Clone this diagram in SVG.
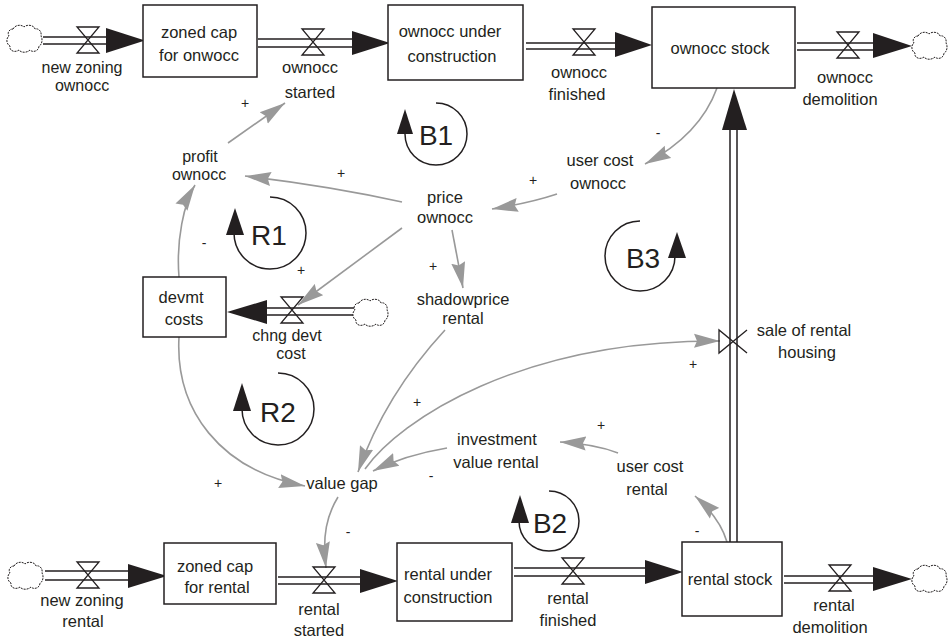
<svg xmlns="http://www.w3.org/2000/svg" xmlns:xlink="http://www.w3.org/1999/xlink" width="948" height="638" viewBox="0 0 948 638">
<style>
.lbl{font-family:"Liberation Sans",Arial,Helvetica,sans-serif;font-size:16.5px;fill:#231f20;text-anchor:middle}
.tight{font-size:16px}
.loop{font-size:28px}
.sgn{font-size:14px}
.box{fill:#fff;stroke:#231f20;stroke-width:1.5}
.pipe{stroke:#231f20;stroke-width:1.5;fill:none}
.valve{fill:none;stroke:#231f20;stroke-width:1.3}
.head{fill:#231f20}
.cloud{fill:#fff;stroke:#231f20;stroke-width:1;stroke-dasharray:2 1}
.link{fill:none;stroke:#999;stroke-width:1.6;marker-end:url(#ah)}
.loopa{fill:none;stroke:#231f20;stroke-width:1.5}
</style>
<defs>
<marker id="ah" markerUnits="userSpaceOnUse" markerWidth="26" markerHeight="16" viewBox="0 0 26 16" refX="26" refY="8" orient="auto">
<path d="M0,1 L26,8 L0,15 L3,8 Z" fill="#999"/>
</marker>
<path id="cloudp" class="cloud" d="M7,5 C9,1 15,0 18,3 C21,0 28,1 29,5 C33,4 36,8 35,12 C37,15 36,21 33,22 C33,27 27,29 24,26 C21,29 15,29 13,26 C9,29 3,27 4,22 C0,20 0,14 3,12 C1,9 3,5 7,5 Z"/>
<path id="valvep" class="valve" d="M-11,-13 H11 L-11,13 H11 Z"/>
</defs>

<g id="connectors">
<path class="link" d="M228,143 L285,103"/>
<path class="link" d="M402,202 Q330,186 245,176"/>
<path class="link" d="M717,88 Q700,135 645,164"/>
<path class="link" d="M557,194 Q530,203 492,209"/>
<path class="link" d="M402,228 L298,305"/>
<path class="link" d="M452,230 L463,288"/>
<path class="link" d="M179,277 C176,240 184,203 195,185"/>
<path class="link" d="M179,337 C175,410 220,470 305,486"/>
<path class="link" d="M445,330 Q385,395 358,472"/>
<path class="link" d="M365,469 C400,420 520,340 720,341"/>
<path class="link" d="M447,448 Q405,455 373,471"/>
<path class="link" d="M618,453 Q595,444 560,442"/>
<path class="link" d="M727,542 Q720,518 695,496"/>
<path class="link" d="M338,497 C327,515 322,535 326,568"/>
<g class="lbl sgn" fill="#231f20">
<text x="245" y="108">+</text>
<text x="341" y="178">+</text>
<text x="658" y="138">-</text>
<text x="533" y="185">+</text>
<text x="301" y="275">+</text>
<text x="433" y="271">+</text>
<text x="204" y="248">-</text>
<text x="218" y="488">+</text>
<text x="417" y="407">+</text>
<text x="693" y="369">+</text>
<text x="431" y="481">-</text>
<text x="601" y="430">+</text>
<text x="697" y="536">-</text>
<text x="348" y="537">-</text>
</g>
</g>

<g id="flows">
<use xlink:href="#cloudp" x="6" y="24"/>
<path class="pipe" d="M43,37 H107 M43,44 H107"/>
<use xlink:href="#valvep" x="88" y="40"/>
<polygon class="head" points="106,28 145,40.5 106,53"/>
<path class="pipe" d="M258,39 H353 M258,47 H353"/>
<use xlink:href="#valvep" x="313" y="42"/>
<polygon class="head" points="352,31 390,43 352,55"/>
<path class="pipe" d="M526,43 H617 M526,49 H617"/>
<use xlink:href="#valvep" x="584" y="42"/>
<polygon class="head" points="615,32 652,45 615,57"/>
<path class="pipe" d="M797,43 H875 M797,50 H875"/>
<use xlink:href="#valvep" x="848" y="45"/>
<polygon class="head" points="873,33 912,46 873,58"/>
<use xlink:href="#cloudp" x="911" y="31"/>
<use xlink:href="#cloudp" x="7" y="561"/>
<path class="pipe" d="M45,571 H129 M45,580 H129"/>
<use xlink:href="#valvep" x="88" y="575"/>
<polygon class="head" points="128,564 167,576 128,588"/>
<path class="pipe" d="M278,577 H361 M278,584 H361"/>
<use xlink:href="#valvep" x="324" y="580"/>
<polygon class="head" points="360,569 398,581 360,593"/>
<path class="pipe" d="M514,568 H646 M514,576 H646"/>
<use xlink:href="#valvep" x="573" y="571"/>
<polygon class="head" points="645,560 683,572 645,584"/>
<path class="pipe" d="M784,576 H874 M784,583 H874"/>
<use xlink:href="#valvep" x="840" y="578"/>
<polygon class="head" points="873,567 912,579 873,591"/>
<use xlink:href="#cloudp" x="911" y="564"/>
<path class="pipe" d="M730,128 V542 M737,128 V542"/>
<polygon class="head" points="722,130 734,89 747,130"/>
<path class="valve" d="M747,330 L719,353 V330 L747,353"/>
<path class="pipe" d="M266,308 H354 M266,315 H354"/>
<use xlink:href="#valvep" x="292" y="310"/>
<polygon class="head" points="267,300 227,312 267,324"/>
<use xlink:href="#cloudp" x="352" y="298"/>
</g>

<g id="loops">
<g id="loop-B1"><path class="loopa" d="M436,103 A31,31 0 1 1 405,134"/><polygon class="head" points="397,134 405,109 413,134"/><text class="lbl loop" x="436" y="145">B1</text></g>
<g id="loop-R1"><path class="loopa" d="M270,197 A36,36 0 1 1 234,233"/><polygon class="head" points="226,235 235,208 244,235"/><text class="lbl loop" x="269" y="245">R1</text></g>
<g id="loop-R2"><path class="loopa" d="M278,373 A36,36 0 1 1 242,409"/><polygon class="head" points="233,411 242,383 251,411"/><text class="lbl loop" x="278" y="422">R2</text></g>
<g id="loop-B2"><path class="loopa" d="M549,491 A30,30 0 1 1 519,521"/><polygon class="head" points="511,523 520,495 529,523"/><text class="lbl loop" x="550" y="533">B2</text></g>
<g id="loop-B3"><path class="loopa" d="M640,221 A35,35 0 1 0 675,256"/><polygon class="head" points="668,258 677,232 686,258"/><text class="lbl loop" x="643" y="268">B3</text></g>
</g>

<g id="zoned-cap-ownocc"><rect class="box" x="143" y="5" width="114" height="72"/><text class="lbl" x="199" y="38">zoned cap</text><text class="lbl" x="199" y="61">for onwocc</text></g>
<g id="ownocc-under-construction"><rect class="box" x="388" y="5" width="135" height="75"/><text class="lbl" x="450" y="37">ownocc under</text><text class="lbl" x="452" y="62">construction</text></g>
<g id="ownocc-stock"><rect class="box" x="652" y="7" width="143" height="81"/><text class="lbl" x="720" y="54">ownocc stock</text></g>
<g id="devmt-costs"><rect class="box" x="143" y="277" width="83" height="60"/><text class="lbl" x="181" y="303">devmt</text><text class="lbl" x="184" y="325">costs</text></g>
<g id="zoned-cap-rental"><rect class="box" x="164" y="543" width="112" height="61"/><text class="lbl" x="215" y="572">zoned cap</text><text class="lbl" x="217" y="593">for rental</text></g>
<g id="rental-under-construction"><rect class="box" x="397" y="543" width="115" height="78"/><text class="lbl" x="448" y="580">rental under</text><text class="lbl" x="448" y="603">construction</text></g>
<g id="rental-stock"><rect class="box" x="682" y="542" width="100" height="74"/><text class="lbl" x="730" y="585">rental stock</text></g>

<g id="new-zoning-ownocc"><text class="lbl tight" x="82" y="73">new zoning</text><text class="lbl tight" x="82" y="91">ownocc</text></g>
<g id="ownocc-started"><text class="lbl" x="310" y="73">ownocc</text><text class="lbl" x="310" y="98">started</text></g>
<g id="ownocc-finished"><text class="lbl" x="579" y="78">ownocc</text><text class="lbl" x="577" y="100">finished</text></g>
<g id="ownocc-demolition"><text class="lbl" x="845" y="83">ownocc</text><text class="lbl" x="840" y="105">demolition</text></g>
<g id="profit-ownocc"><text class="lbl tight" x="200" y="162">profit</text><text class="lbl tight" x="199" y="180">ownocc</text></g>
<g id="price-ownocc"><text class="lbl" x="445" y="203">price</text><text class="lbl" x="445" y="223">ownocc</text></g>
<g id="user-cost-ownocc"><text class="lbl" x="600" y="166">user cost</text><text class="lbl" x="598" y="189">ownocc</text></g>
<g id="chng-devt-cost"><text class="lbl tight" x="287" y="341">chng devt</text><text class="lbl tight" x="291" y="359">cost</text></g>
<g id="shadowprice-rental"><text class="lbl" x="463" y="305">shadowprice</text><text class="lbl" x="463" y="324">rental</text></g>
<g id="sale-of-rental-housing"><text class="lbl" x="804" y="336">sale of rental</text><text class="lbl" x="807" y="358">housing</text></g>
<g id="investment-value-rental"><text class="lbl" x="497" y="445">investment</text><text class="lbl" x="496" y="468">value rental</text></g>
<g id="value-gap"><text class="lbl" x="342" y="489">value gap</text></g>
<g id="user-cost-rental"><text class="lbl" x="650" y="472">user cost</text><text class="lbl" x="647" y="495">rental</text></g>
<g id="new-zoning-rental"><text class="lbl" x="82" y="606">new zoning</text><text class="lbl" x="83" y="627">rental</text></g>
<g id="rental-started"><text class="lbl" x="319" y="615">rental</text><text class="lbl" x="319" y="636">started</text></g>
<g id="rental-finished"><text class="lbl" x="568" y="604">rental</text><text class="lbl" x="568" y="626">finished</text></g>
<g id="rental-demolition"><text class="lbl" x="834" y="611">rental</text><text class="lbl" x="830" y="633">demolition</text></g>
</svg>
